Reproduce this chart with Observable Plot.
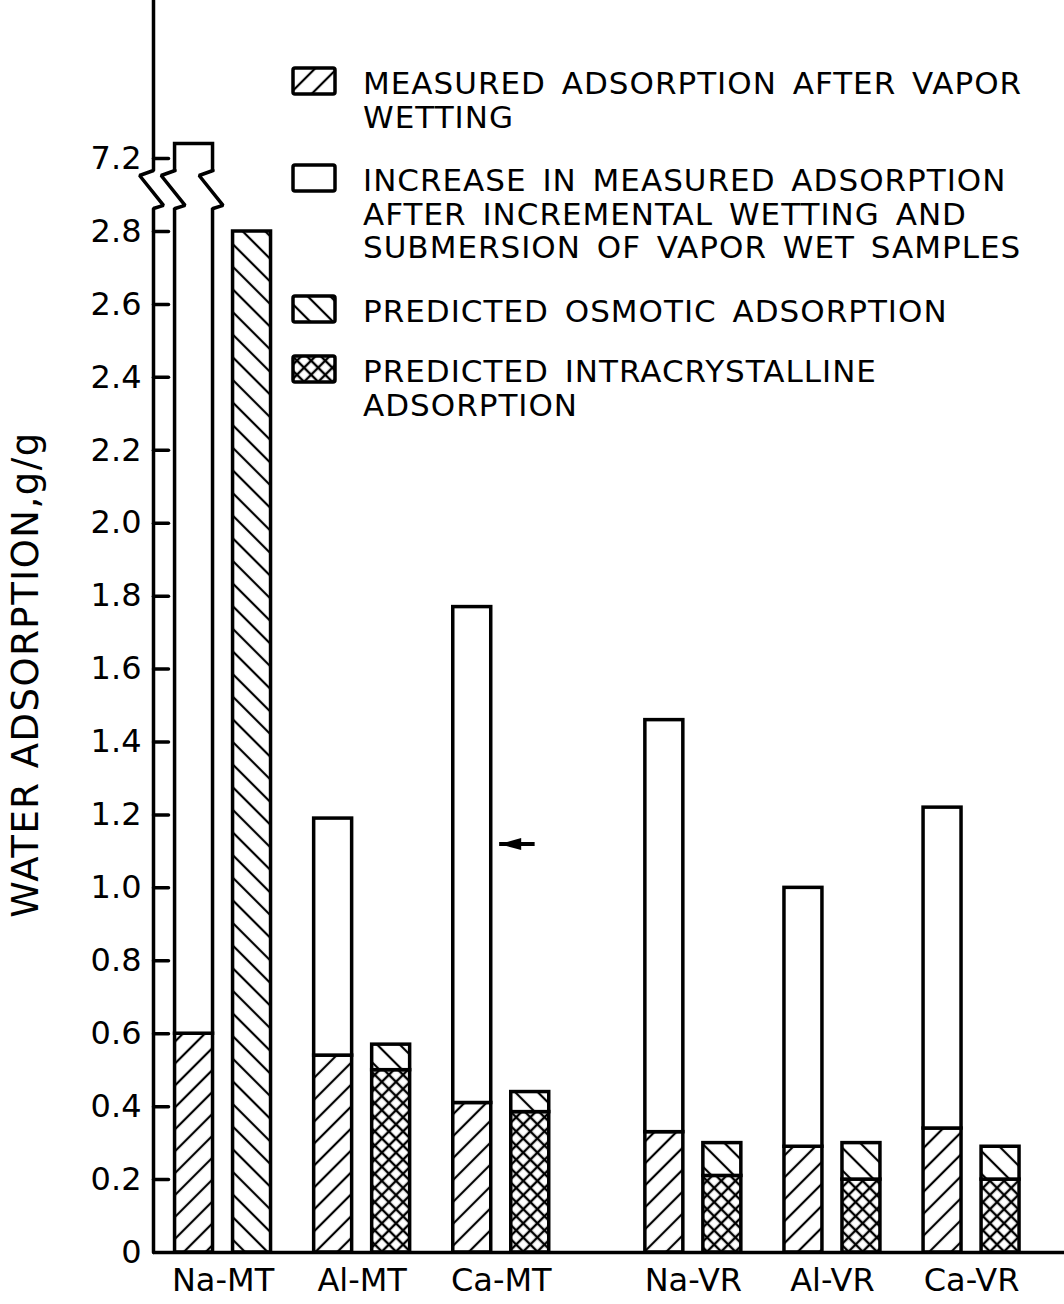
<!DOCTYPE html>
<html>
<head>
<meta charset="utf-8">
<script src="https://cdn.jsdelivr.net/npm/d3@7"></script>
<script src="https://cdn.jsdelivr.net/npm/@observablehq/plot@0.6"></script>
<style>
  html, body { margin: 0; padding: 0; background: #fff; }
  #chart svg { display: block; }
  .legend text { letter-spacing: 1px; word-spacing: 5px; }
  .ytitle text { letter-spacing: 1.5px; }
</style>
</head>
<body>
<div id="chart"></div>
<script>
// ---------------- data ----------------
const samples = ["Na-MT", "Al-MT", "Ca-MT", "Na-VR", "Al-VR", "Ca-VR"];
// measured adsorption after vapor wetting (g/g)
const measuredVapor = [0.60, 0.54, 0.41, 0.33, 0.29, 0.34];
// measured adsorption after incremental wetting and submersion (total height)
const measuredTotal = [7.24, 1.19, 1.77, 1.46, 1.00, 1.22];
// predicted intracrystalline adsorption
const predictedIntra = [0, 0.50, 0.385, 0.21, 0.20, 0.20];
// predicted total (intracrystalline + osmotic)
const predictedTotal = [2.80, 0.57, 0.44, 0.30, 0.30, 0.29];

const yTicks = [0, 0.2, 0.4, 0.6, 0.8, 1.0, 1.2, 1.4, 1.6, 1.8, 2.0, 2.2, 2.4, 2.6, 2.8, 7.2];
const yTitle = "WATER ADSORPTION,g/g";

const legendEntries = [
  {fill: "url(#hatchVapor)", lines: ["MEASURED ADSORPTION AFTER VAPOR", "WETTING"]},
  {fill: "white", lines: ["INCREASE IN MEASURED ADSORPTION", "AFTER INCREMENTAL WETTING AND", "SUBMERSION OF VAPOR WET SAMPLES"]},
  {fill: "url(#hatchOsmotic)", lines: ["PREDICTED OSMOTIC ADSORPTION"]},
  {fill: "url(#hatchIntra)", lines: ["PREDICTED INTRACRYSTALLINE", "ADSORPTION"]}
];

// arrow annotation near Ca-MT (tail -> head, at y value)
const arrowNote = [{from: 2.24, to: 1.985, y: 1.12}];

// axis break (broken scale between 2.8 and 7.2): zigzag relative to a vertical edge
const breakZig = [{dx: 0, y: 6.48}, {dx: -0.10, y: 6.18}, {dx: 0.072, y: 4.38}, {dx: 0, y: 4.19}];

// ---------------- layout ----------------
const W = 1064, H = 1304;
const X0 = 153, X_STEP = 139.1, X_GAP = 53;
const xDomain = [-0.5, 2.45, 2.55, 5.67];
const xRange = [X0, X0 + 2.95 * X_STEP, X0 + 3.05 * X_STEP + X_GAP, X0 + 6.17 * X_STEP + X_GAP];
const Y0 = 1252, Y_UNIT = 364.64;
const yDomain = [0, 2.8, 7.2, 7.2 + (Y0 - 3.0 * Y_UNIT) / Y_UNIT];
const yRange = [Y0, Y0 - 2.8 * Y_UNIT, Y0 - 3.0 * Y_UNIT, 0];
const BAR = {measured: [-0.345, -0.072], predicted: [0.072, 0.345]};
const SW = 3.5;

// ---------------- derived tables ----------------
const segs = {vapor: [], increase: [], intra: [], osmotic: []};
samples.forEach((s, i) => {
  const m = BAR.measured, p = BAR.predicted;
  segs.vapor.push({sample: s, x1: i + m[0], x2: i + m[1], y1: 0, y2: measuredVapor[i]});
  segs.increase.push({sample: s, x1: i + m[0], x2: i + m[1], y1: measuredVapor[i], y2: measuredTotal[i]});
  if (predictedIntra[i] > 0) segs.intra.push({sample: s, x1: i + p[0], x2: i + p[1], y1: 0, y2: predictedIntra[i]});
  segs.osmotic.push({sample: s, x1: i + p[0], x2: i + p[1], y1: predictedIntra[i], y2: predictedTotal[i]});
});

// broken bars (those exceeding the lower segment of the axis)
const brokenBars = segs.increase.filter(d => d.y2 > yDomain[1] + 0.01);
const breakLines = [];
breakLines.push({id: "axis", x: xDomain[0], y: yDomain[3]});
breakZig.forEach(p => breakLines.push({id: "axis", x: xDomain[0] + p.dx, y: p.y}));
breakLines.push({id: "axis", x: xDomain[0], y: 0});
brokenBars.forEach(b => {
  breakZig.forEach(p => breakLines.push({id: b.sample + "L", x: b.x1 + p.dx, y: p.y}));
  breakZig.forEach(p => breakLines.push({id: b.sample + "R", x: b.x2 + p.dx, y: p.y}));
});
const breakCover = brokenBars.map(b => ({x1: b.x1 - 0.03, x2: b.x2 + 0.03, y1: breakZig[3].y, y2: breakZig[0].y}));

// ---------------- helpers ----------------
function patternDefs() {
  const defs = d3.create("svg:defs");
  const mk = (id, size, angle, paths, sw) => {
    const p = defs.append("pattern").attr("id", id)
      .attr("patternUnits", "userSpaceOnUse")
      .attr("width", size).attr("height", size)
      .attr("patternTransform", `rotate(${angle})`);
    p.append("rect").attr("width", size).attr("height", size).attr("fill", "white");
    paths.forEach(d => p.append("path").attr("d", d).attr("stroke", "black").attr("stroke-width", sw).attr("fill", "none"));
  };
  mk("hatchVapor", 15.5, 45, ["M7.75,-1V17"], 2.2);
  mk("hatchOsmotic", 16, -45, ["M8,-1V17"], 2.2);
  mk("hatchIntra", 10, 45, ["M5,-1V11", "M-1,5H11"], 2.4);
  return defs.node();
}

const LEG = {swatchX: 293, swatchW: 42, swatchH: 26, textX: 363, lineHeight: 33.5, baselines: [94, 191, 322, 382]};
function legendMark() {
  const g = d3.create("svg:g").attr("class", "legend")
    .attr("font-family", "DejaVu Sans, sans-serif").attr("font-size", 31)
    .attr("fill", "black").attr("text-anchor", "start");
  legendEntries.forEach((e, k) => {
    const b = LEG.baselines[k];
    g.append("rect").attr("x", LEG.swatchX).attr("y", b - LEG.swatchH)
      .attr("width", LEG.swatchW).attr("height", LEG.swatchH).attr("rx", 2)
      .attr("fill", e.fill).attr("stroke", "black").attr("stroke-width", SW);
    e.lines.forEach((t, j) => g.append("text").attr("x", LEG.textX).attr("y", b + j * LEG.lineHeight).text(t));
  });
  return g.node();
}

const tickShape = {draw(context, l) { context.moveTo(0, 0); context.lineTo(0, -l); }};
const arrowHead = {draw(context) { context.moveTo(0, 0); context.lineTo(22, -6); context.lineTo(22, 6); context.closePath(); }};

const rectOpts = (fill) => ({x1: "x1", x2: "x2", y1: "y1", y2: "y2", fill, stroke: "black", strokeWidth: SW});

const chart = Plot.plot({
  width: W, height: H,
  marginLeft: X0, marginRight: 0, marginTop: 0, marginBottom: H - Y0,
  style: {background: "white", color: "black", fontFamily: "DejaVu Sans, sans-serif"},
  x: {type: "linear", domain: xDomain, range: xRange},
  y: {type: "linear", domain: yDomain, range: yRange},
  marks: [
    patternDefs,
    Plot.rect(segs.vapor, rectOpts("url(#hatchVapor)")),
    Plot.rect(segs.increase, rectOpts("white")),
    Plot.rect(segs.intra, rectOpts("url(#hatchIntra)")),
    Plot.rect(segs.osmotic, rectOpts("url(#hatchOsmotic)")),
    Plot.rect(breakCover, {x1: "x1", x2: "x2", y1: "y1", y2: "y2", fill: "white"}),
    Plot.line(breakLines, {x: "x", y: "y", z: "id", stroke: "black", strokeWidth: SW, strokeLinejoin: "miter"}),
    Plot.ruleY([0], {stroke: "black", strokeWidth: SW}),
    Plot.vector(yTicks.filter(t => t > 0), {y: d => d, frameAnchor: "left", length: 15, rotate: 90, anchor: "start", shape: tickShape, stroke: "black", strokeWidth: SW}),
    Plot.axisY({ticks: yTicks, tickSize: 0, tickPadding: 12, label: null,
      tickFormat: d => d === 0 ? "0" : d3.format(".1f")(d), fontSize: 32, fontFamily: "DejaVu Sans, sans-serif"}),
    Plot.axisX({ticks: d3.range(samples.length), tickSize: 0, tickPadding: 16, label: null,
      tickFormat: i => samples[i], fontSize: 32, fontFamily: "DejaVu Sans, sans-serif"}),
    Plot.link(arrowNote, {x1: "from", x2: "to", y1: "y", y2: "y", stroke: "black", strokeWidth: 4}),
    Plot.dot(arrowNote, {x: "to", y: "y", symbol: arrowHead, fill: "black", stroke: "none"}),
    legendMark,
    Plot.text([yTitle], {frameAnchor: "left", rotate: -90, dx: -116, dy: 48, textAnchor: "middle",
      lineAnchor: "bottom", fontSize: 37, fontFamily: "DejaVu Sans, sans-serif", className: "ytitle"})
  ]
});
document.getElementById("chart").appendChild(chart);
</script>
</body>
</html>
